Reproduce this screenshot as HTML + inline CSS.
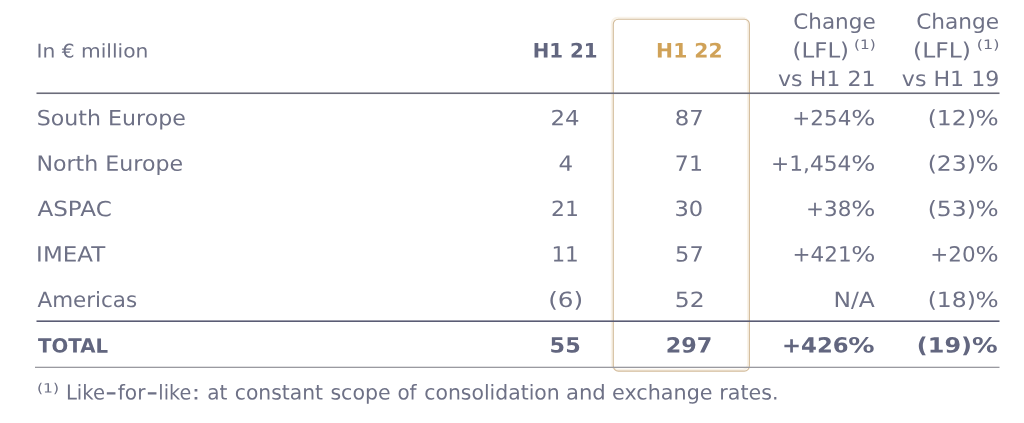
<!DOCTYPE html>
<html lang="en">
<head>
<meta charset="utf-8">
<title>Results by region</title>
<style>
  html, body { margin: 0; padding: 0; background: #fff; }
  body { width: 1024px; height: 423px; position: relative; overflow: hidden;
         font-family: "DejaVu Sans", "Liberation Sans", sans-serif; color: #6e7186;
         text-rendering: geometricPrecision; }
  #deco { position: absolute; left: 0; top: 0; width: 1024px; height: 423px; }
  #txt { position: absolute; left: 0; top: 0; width: 1024px; height: 423px; filter: blur(0.42px); }
  .g { margin: 0; }
  .t { position: absolute; left: 0; top: 0; white-space: pre; line-height: 1; transform-origin: 0 0; }
  .b { font-weight: bold; }
</style>
</head>
<body>
  <svg id="deco" width="1024" height="423" viewBox="0 0 1024 423">
    <rect class="box" x="611.9" y="17.8" width="136.1" height="351.9" rx="5.5" fill="none" stroke="#f9f3e9" stroke-width="2.1"/>
    <rect class="box" x="613.3" y="19.2" width="136.1" height="351.9" rx="5" fill="none" stroke="#d3bc9b" stroke-width="1.1"/>
    <rect class="hl" x="36.5" y="92.45" width="963" height="1.6" fill="#6b6c7a"/>
    <rect class="hl" x="36.5" y="320.4" width="963" height="1.6" fill="#5a5c74"/>
    <rect class="hl" x="35" y="366.7" width="964.5" height="1.3" fill="#9a9aa0"/>
  </svg>
  <div id="txt">
  <div class="g"><span class="t" style="font-size:18.9px;transform:matrix(1.0706,0.0005,0,1,36.53,42.50)">In € million</span></div>
  <div class="g"><span class="t b" style="font-size:20.0px;color:#62667f;transform:matrix(0.9904,0.0005,0,1,532.67,40.50)">H1 21</span></div>
  <div class="g"><span class="t b" style="font-size:20.0px;color:#d0a258;transform:matrix(1.0161,0.0005,0,1,656.12,40.50)">H1 22</span></div>
  <div class="g"><span class="t" style="font-size:21.0px;transform:matrix(1.0256,0.0005,0,1,793.22,11.80)">Change</span></div>
  <div class="g"><span class="t" style="font-size:21.0px;transform:matrix(1.0881,0.0005,0,1,792.60,40.60)">(LFL)</span><span class="t" style="font-size:21.0px;transform:matrix(1.0000,0.0005,0,1,848.00,40.60)"> </span><span class="t" style="font-size:13.0px;transform:matrix(1.1754,0.0005,0,1,854.02,39.10)">(1)</span></div>
  <div class="g"><span class="t" style="font-size:21.0px;transform:matrix(1.0537,0.0005,0,1,777.97,68.90)">vs H1 21</span></div>
  <div class="g"><span class="t" style="font-size:21.0px;transform:matrix(1.0321,0.0005,0,1,916.21,11.80)">Change</span></div>
  <div class="g"><span class="t" style="font-size:21.0px;transform:matrix(1.1130,0.0005,0,1,913.05,40.60)">(LFL)</span><span class="t" style="font-size:21.0px;transform:matrix(1.0000,0.0005,0,1,970.00,40.60)"> </span><span class="t" style="font-size:13.0px;transform:matrix(1.2308,0.0005,0,1,976.77,39.10)">(1)</span></div>
  <div class="g"><span class="t" style="font-size:21.0px;transform:matrix(1.0545,0.0005,0,1,901.77,68.90)">vs H1 19</span></div>
  <div class="g"><span class="t" style="font-size:21.0px;transform:matrix(1.0528,0.0005,0,1,36.78,108.30)">South Europe</span></div>
  <div class="g"><span class="t" style="font-size:21.0px;transform:matrix(1.0875,0.0005,0,1,550.47,108.30)">24</span></div>
  <div class="g"><span class="t" style="font-size:21.0px;transform:matrix(1.0863,0.0005,0,1,674.74,108.30)">87</span></div>
  <div class="g"><span class="t" style="font-size:21.0px;transform:matrix(1.0230,0.0005,0,1,792.30,108.30)">+254</span><span class="t" style="font-size:21.0px;transform:matrix(1.2113,0.0005,0,1,851.29,108.30)">%</span></div>
  <div class="g"><span class="t" style="font-size:21.0px;transform:matrix(1.1190,0.0005,0,1,927.64,108.30)">(12)</span><span class="t" style="font-size:21.0px;transform:matrix(1.1606,0.0005,0,1,975.54,108.30)">%</span></div>
  <div class="g"><span class="t" style="font-size:21.0px;transform:matrix(1.0539,0.0005,0,1,36.39,153.70)">North Europe</span></div>
  <div class="g"><span class="t" style="font-size:21.0px;transform:matrix(1.0933,0.0005,0,1,558.41,153.70)">4</span></div>
  <div class="g"><span class="t" style="font-size:21.0px;transform:matrix(1.0522,0.0005,0,1,674.86,153.70)">71</span></div>
  <div class="g"><span class="t" style="font-size:21.0px;transform:matrix(1.0330,0.0005,0,1,771.08,153.70)">+1,454</span><span class="t" style="font-size:21.0px;transform:matrix(1.2113,0.0005,0,1,851.29,153.70)">%</span></div>
  <div class="g"><span class="t" style="font-size:21.0px;transform:matrix(1.1190,0.0005,0,1,927.64,153.70)">(23)</span><span class="t" style="font-size:21.0px;transform:matrix(1.1606,0.0005,0,1,975.54,153.70)">%</span></div>
  <div class="g"><span class="t" style="font-size:21.0px;transform:matrix(1.0989,0.0005,0,1,37.43,199.10)">ASPAC</span></div>
  <div class="g"><span class="t" style="font-size:21.0px;transform:matrix(1.0452,0.0005,0,1,550.93,199.10)">21</span></div>
  <div class="g"><span class="t" style="font-size:21.0px;transform:matrix(1.0750,0.0005,0,1,674.49,199.10)">30</span></div>
  <div class="g"><span class="t" style="font-size:21.0px;transform:matrix(1.0230,0.0005,0,1,806.00,199.10)">+38</span><span class="t" style="font-size:21.0px;transform:matrix(1.2113,0.0005,0,1,851.29,199.10)">%</span></div>
  <div class="g"><span class="t" style="font-size:21.0px;transform:matrix(1.1190,0.0005,0,1,927.64,199.10)">(53)</span><span class="t" style="font-size:21.0px;transform:matrix(1.1606,0.0005,0,1,975.54,199.10)">%</span></div>
  <div class="g"><span class="t" style="font-size:21.0px;transform:matrix(1.0939,0.0005,0,1,36.11,244.50)">IMEAT</span></div>
  <div class="g"><span class="t" style="font-size:21.0px;transform:matrix(1.0267,0.0005,0,1,551.39,244.50)">11</span></div>
  <div class="g"><span class="t" style="font-size:21.0px;transform:matrix(1.0723,0.0005,0,1,675.09,244.50)">57</span></div>
  <div class="g"><span class="t" style="font-size:21.0px;transform:matrix(1.0230,0.0005,0,1,792.60,244.50)">+421</span><span class="t" style="font-size:21.0px;transform:matrix(1.2113,0.0005,0,1,851.29,244.50)">%</span></div>
  <div class="g"><span class="t" style="font-size:21.0px;transform:matrix(1.0230,0.0005,0,1,930.30,244.50)">+20</span><span class="t" style="font-size:21.0px;transform:matrix(1.1606,0.0005,0,1,975.54,244.50)">%</span></div>
  <div class="g"><span class="t" style="font-size:21.0px;transform:matrix(1.0223,0.0005,0,1,37.44,289.90)">Americas</span></div>
  <div class="g"><span class="t" style="font-size:21.0px;transform:matrix(1.1810,0.0005,0,1,548.13,289.90)">(6)</span></div>
  <div class="g"><span class="t" style="font-size:21.0px;transform:matrix(1.1183,0.0005,0,1,674.72,289.90)">52</span></div>
  <div class="g"><span class="t" style="font-size:21.0px;transform:matrix(1.1143,0.0005,0,1,833.47,289.90)">N/A</span></div>
  <div class="g"><span class="t" style="font-size:21.0px;transform:matrix(1.1190,0.0005,0,1,927.64,289.90)">(18)</span><span class="t" style="font-size:21.0px;transform:matrix(1.1606,0.0005,0,1,975.54,289.90)">%</span></div>
  <div class="g"><span class="t b" style="font-size:19.6px;color:#62667f;transform:matrix(1.0072,0.0005,0,1,38.00,336.60)">TOTAL</span></div>
  <div class="g"><span class="t b" style="font-size:21.0px;color:#62667f;transform:matrix(1.0667,0.0005,0,1,549.60,335.40)">55</span></div>
  <div class="g"><span class="t b" style="font-size:21.0px;color:#62667f;transform:matrix(1.0626,0.0005,0,1,665.81,335.40)">297</span></div>
  <div class="g"><span class="t b" style="font-size:21.0px;color:#62667f;transform:matrix(1.0862,0.0005,0,1,781.96,335.40)">+426</span><span class="t b" style="font-size:21.0px;color:#62667f;transform:matrix(1.2500,0.0005,0,1,848.17,335.40)">%</span></div>
  <div class="g"><span class="t b" style="font-size:21.0px;color:#62667f;transform:matrix(1.1400,0.0005,0,1,916.80,335.40)">(19)</span><span class="t b" style="font-size:21.0px;color:#62667f;transform:matrix(1.2200,0.0005,0,1,971.89,335.40)">%</span></div>
  <div class="g"><span class="t" style="font-size:12.8px;transform:matrix(1.2188,0.0005,0,1,36.88,383.60)">(1)</span><span class="t" style="font-size:20.5px;transform:matrix(1.0000,0.0005,0,1,61.00,382.50)"> </span><span class="t" style="font-size:20.5px;transform:matrix(0.9563,0.0005,0,1,65.89,382.50)">Like</span><span class="t" style="font-size:26px;transform:matrix(1.2571,0.0005,0,1,105.33,379.40)">-</span><span class="t" style="font-size:20.5px;transform:matrix(0.9838,0.0005,0,1,117.71,382.50)">for</span><span class="t" style="font-size:26px;transform:matrix(1.2571,0.0005,0,1,146.33,379.40)">-</span><span class="t" style="font-size:20.5px;transform:matrix(0.9385,0.0005,0,1,158.36,382.50)">like</span><span class="t" style="font-size:20.5px;transform:matrix(1.2889,0.0005,0,1,191.50,382.50)">:</span><span class="t" style="font-size:20.5px;transform:matrix(1.0000,0.0005,0,1,201.00,382.50)"> </span><span class="t" style="font-size:20.5px;transform:matrix(0.9789,0.0005,0,1,207.18,382.50)">at</span><span class="t" style="font-size:20.5px;transform:matrix(1.0000,0.0005,0,1,230.00,382.50)"> </span><span class="t" style="font-size:20.5px;transform:matrix(0.9915,0.0005,0,1,234.71,382.50)">constant</span><span class="t" style="font-size:20.5px;transform:matrix(1.0000,0.0005,0,1,326.00,382.50)"> </span><span class="t" style="font-size:20.5px;transform:matrix(1.0034,0.0005,0,1,330.40,382.50)">scope</span><span class="t" style="font-size:20.5px;transform:matrix(1.0000,0.0005,0,1,393.00,382.50)"> </span><span class="t" style="font-size:20.5px;transform:matrix(0.9714,0.0005,0,1,397.43,382.50)">of</span><span class="t" style="font-size:20.5px;transform:matrix(1.0000,0.0005,0,1,420.00,382.50)"> </span><span class="t" style="font-size:20.5px;transform:matrix(0.9948,0.0005,0,1,424.21,382.50)">consolidation</span><span class="t" style="font-size:20.5px;transform:matrix(1.0000,0.0005,0,1,562.00,382.50)"> </span><span class="t" style="font-size:20.5px;transform:matrix(1.0338,0.0005,0,1,565.91,382.50)">and</span><span class="t" style="font-size:20.5px;transform:matrix(1.0000,0.0005,0,1,607.00,382.50)"> </span><span class="t" style="font-size:20.5px;transform:matrix(1.0113,0.0005,0,1,611.99,382.50)">exchange</span><span class="t" style="font-size:20.5px;transform:matrix(1.0000,0.0005,0,1,715.00,382.50)"> </span><span class="t" style="font-size:20.5px;transform:matrix(1.0073,0.0005,0,1,719.24,382.50)">rates.</span></div>
  </div>
</body>
</html>
